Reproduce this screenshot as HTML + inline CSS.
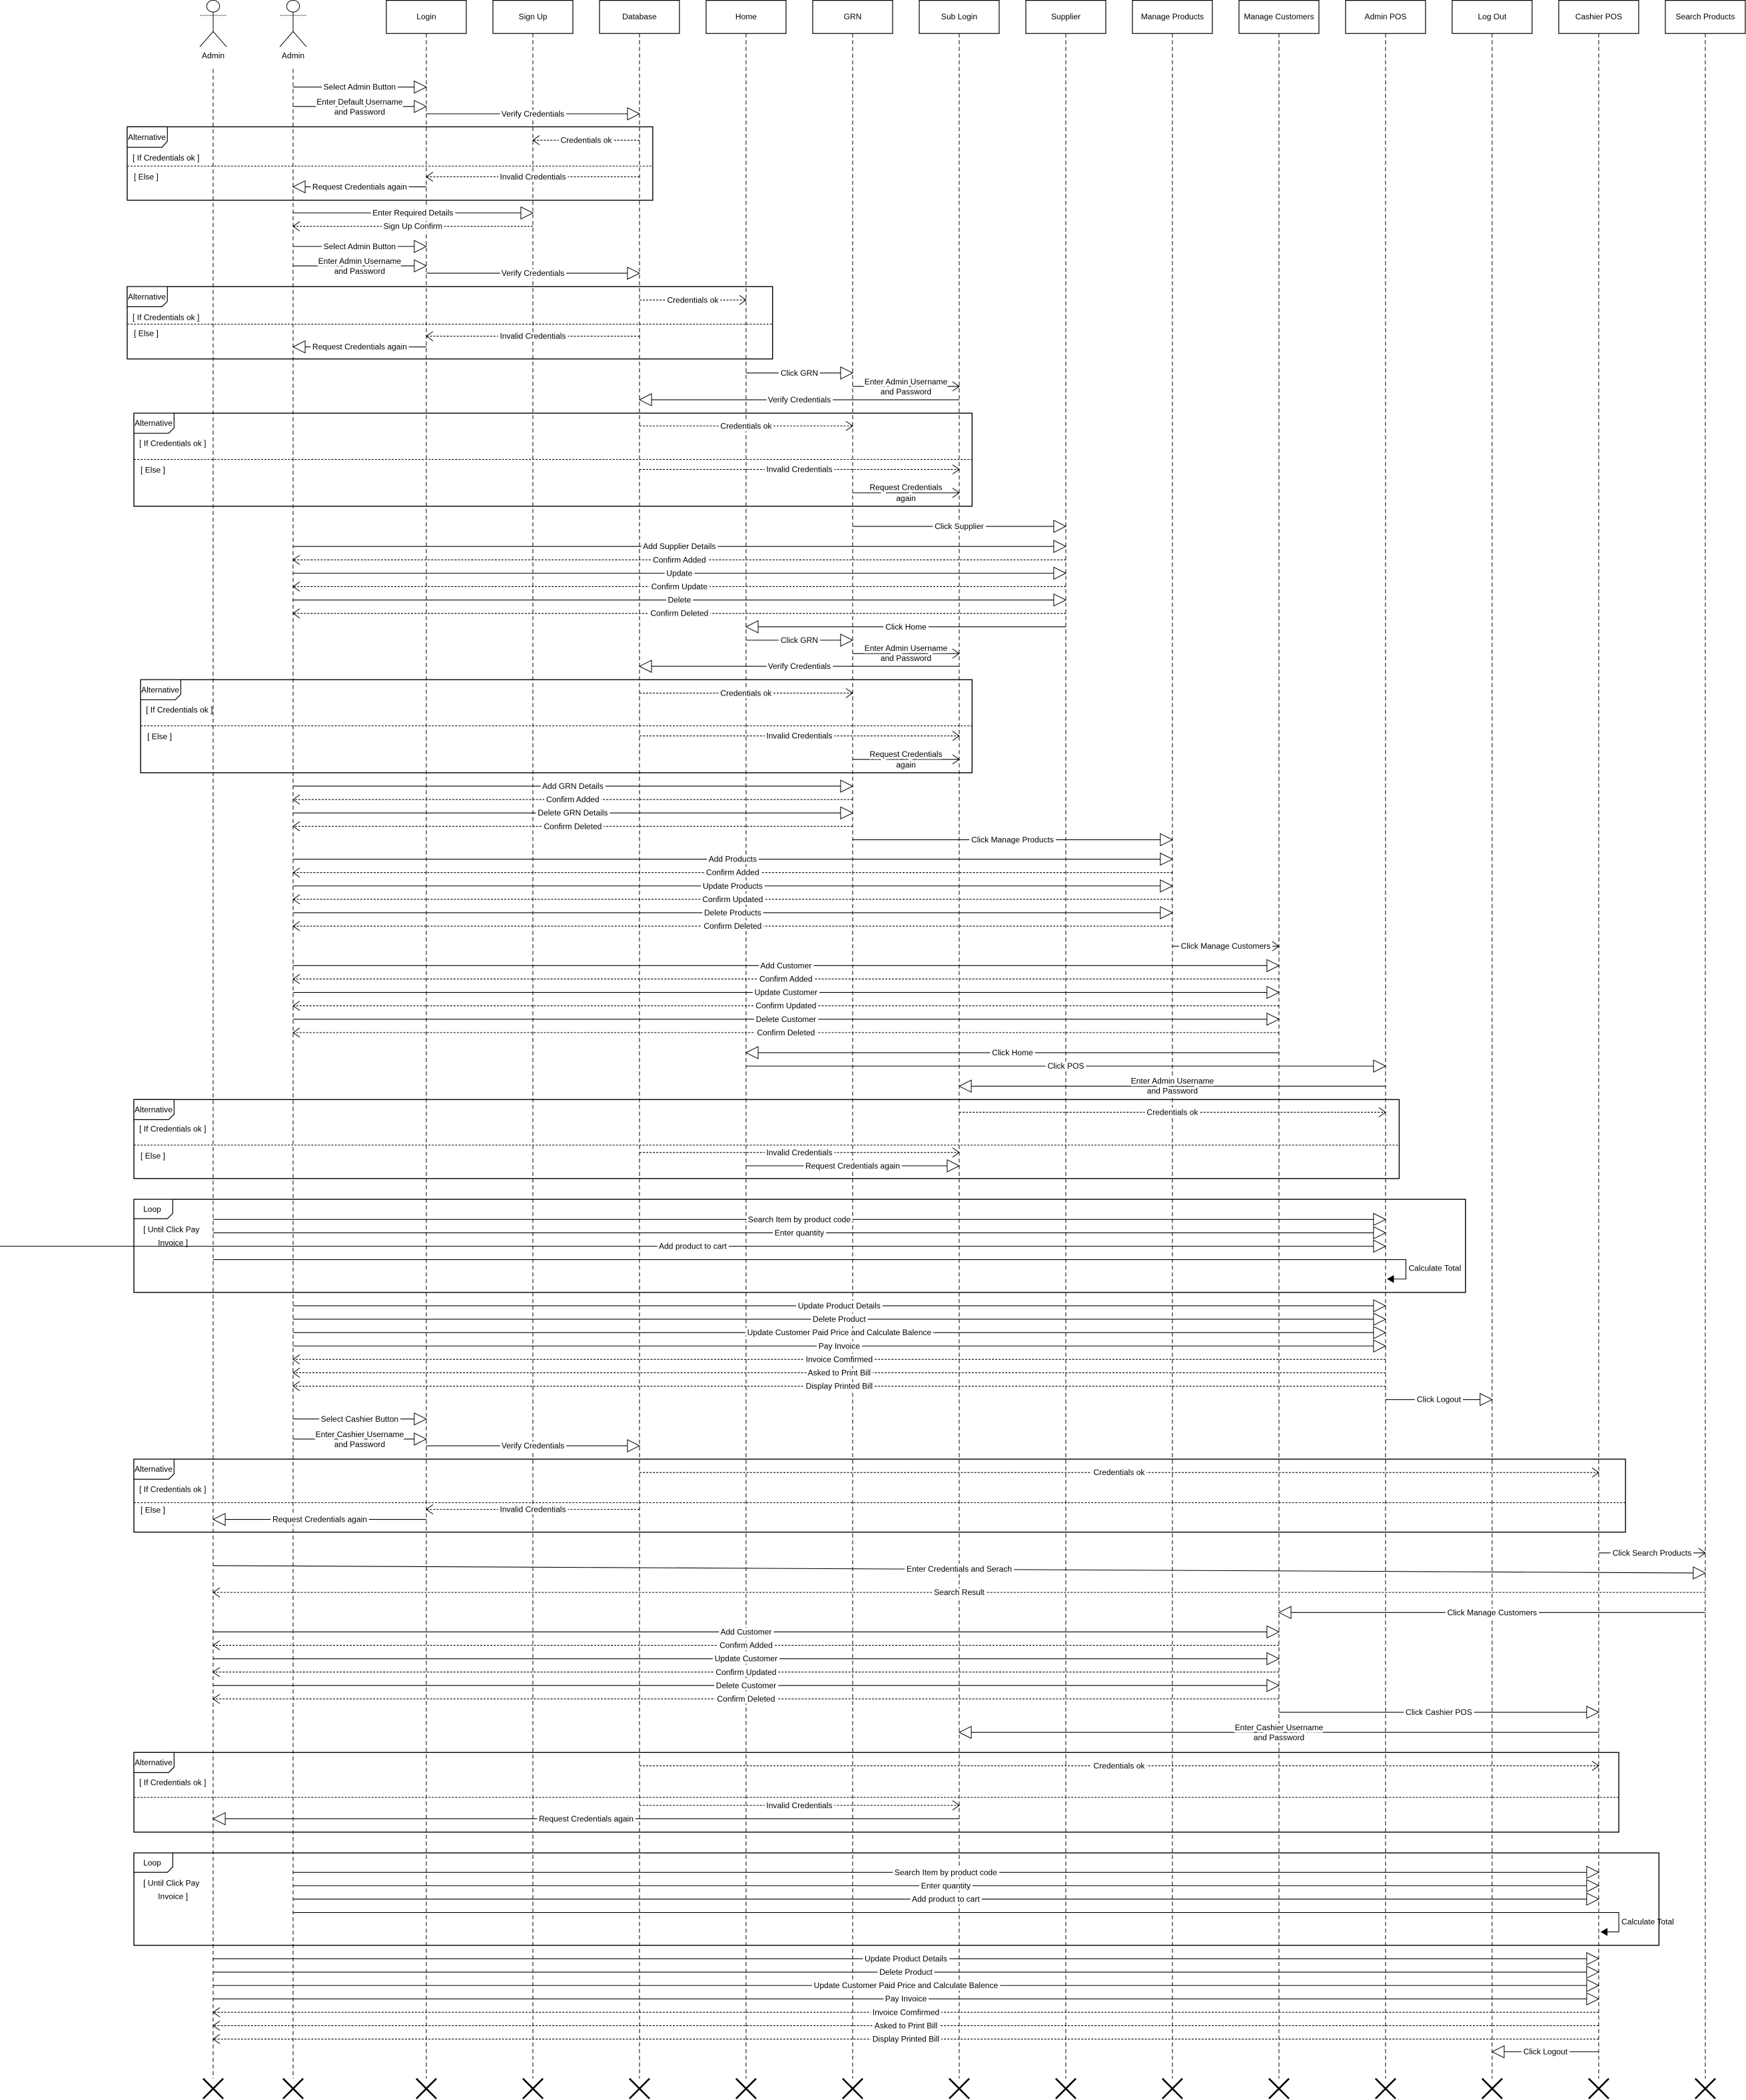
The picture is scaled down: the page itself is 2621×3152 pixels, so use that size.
<!DOCTYPE html>
<html><head><meta charset="utf-8"><style>
html,body{margin:0;padding:0;background:#fff}
svg{display:block}
text{font-family:"Liberation Sans",sans-serif;font-size:6px;text-anchor:middle;fill:#000;paint-order:stroke;stroke:#fff;stroke-width:3.6px;stroke-linejoin:round}
text.l{text-anchor:start;stroke:none}
.ll{stroke:#000;stroke-width:.5;stroke-dasharray:3 2;fill:none}
.s{stroke:#000;stroke-width:.55;marker-end:url(#t)}
.c{stroke:#000;stroke-width:.55;marker-end:url(#v)}
.d{stroke:#000;stroke-width:.55;stroke-dasharray:1.5 1;marker-end:url(#v)}
.f{fill:none;stroke:#000;stroke-width:.7}
.dv{stroke:#000;stroke-width:.5;stroke-dasharray:1.5 1}
.bx{fill:#fff;stroke:#000;stroke-width:.6}
.x{stroke:#000;stroke-width:1.3}
.tg{fill:#fff;stroke:#000;stroke-width:.6}
</style></head><body>
<svg width="2621" height="3152" viewBox="0 0 1304 1568" preserveAspectRatio="none" xmlns="http://www.w3.org/2000/svg">
<defs>
<marker id="t" markerUnits="userSpaceOnUse" markerWidth="11" markerHeight="11" refX="9.5" refY="5" orient="auto"><path d="M0.5,0.5 L9.5,5 L0.5,9.5 Z" fill="#fff" stroke="#000" stroke-width=".5"/></marker>
<marker id="v" markerUnits="userSpaceOnUse" markerWidth="7" markerHeight="8" refX="5.5" refY="4" orient="auto"><path d="M0.5,0.5 L5.5,4 L0.5,7.5" fill="none" stroke="#000" stroke-width=".5"/></marker>
<marker id="fa" markerUnits="userSpaceOnUse" markerWidth="6" markerHeight="6" refX="5" refY="3" orient="auto"><path d="M0,0 L5,3 L0,6 Z" fill="#000"/></marker>
</defs>

<g class="ll">
<line x1="159.2" y1="51.5" x2="159.2" y2="1552"/><line x1="218.9" y1="51.5" x2="218.9" y2="1552"/>
<line x1="318.4" y1="25" x2="318.4" y2="1552"/><line x1="398" y1="25" x2="398" y2="1552"/>
<line x1="477.6" y1="25" x2="477.6" y2="1552"/><line x1="557.2" y1="25" x2="557.2" y2="1552"/>
<line x1="636.8" y1="25" x2="636.8" y2="1552"/><line x1="716.4" y1="25" x2="716.4" y2="1552"/>
<line x1="796" y1="25" x2="796" y2="1552"/><line x1="875.6" y1="25" x2="875.6" y2="1552"/>
<line x1="955.2" y1="25" x2="955.2" y2="1552"/><line x1="1034.8" y1="25" x2="1034.8" y2="1552"/>
<line x1="1114.4" y1="25" x2="1114.4" y2="1552"/><line x1="1194" y1="25" x2="1194" y2="1552"/>
<line x1="1273.6" y1="25" x2="1273.6" y2="1552"/>
</g>

<g fill="none" stroke="#000" stroke-width=".5">
<ellipse cx="159.2" cy="4.6" rx="4.8" ry="4.4"/><line x1="149.2" y1="11.5" x2="169.2" y2="11.5" stroke="#777"/><line x1="159.2" y1="9" x2="159.2" y2="23.5"/><path d="M149.2,35 L159.2,23.5 L169.2,35"/>
<ellipse cx="218.9" cy="4.6" rx="4.8" ry="4.4"/><line x1="208.9" y1="11.5" x2="228.9" y2="11.5" stroke="#777"/><line x1="218.9" y1="9" x2="218.9" y2="23.5"/><path d="M208.9,35 L218.9,23.5 L228.9,35"/>
</g>
<text x="159.2" y="43.5">Admin</text><text x="218.9" y="43.5">Admin</text>

<g class="bx">
<rect x="288.55" y="0.3" width="59.7" height="24.7"/><rect x="368.15" y="0.3" width="59.7" height="24.7"/>
<rect x="447.75" y="0.3" width="59.7" height="24.7"/><rect x="527.35" y="0.3" width="59.7" height="24.7"/>
<rect x="606.95" y="0.3" width="59.7" height="24.7"/><rect x="686.55" y="0.3" width="59.7" height="24.7"/>
<rect x="766.15" y="0.3" width="59.7" height="24.7"/><rect x="845.75" y="0.3" width="59.7" height="24.7"/>
<rect x="925.35" y="0.3" width="59.7" height="24.7"/><rect x="1004.95" y="0.3" width="59.7" height="24.7"/>
<rect x="1084.55" y="0.3" width="59.7" height="24.7"/><rect x="1164.15" y="0.3" width="59.7" height="24.7"/>
<rect x="1243.75" y="0.3" width="59.7" height="24.7"/>
</g>
<text x="318.4" y="14.5">Login</text><text x="398" y="14.5">Sign Up</text><text x="477.6" y="14.5">Database</text>
<text x="557.2" y="14.5">Home</text><text x="636.8" y="14.5">GRN</text><text x="716.4" y="14.5">Sub Login</text>
<text x="796" y="14.5">Supplier</text><text x="875.6" y="14.5">Manage Products</text><text x="955.2" y="14.5">Manage Customers</text>
<text x="1034.8" y="14.5">Admin POS</text><text x="1114.4" y="14.5">Log Out</text><text x="1194" y="14.5">Cashier POS</text>
<text x="1273.6" y="14.5">Search Products</text>

<rect class="f" x="95" y="94.7" width="392.5" height="54.8"/>
<path class="tg" d="M95,94.7 H125 V105.5 L121,110 H95 Z"/><text class="l" x="95.5" y="104.5">Alternative</text>
<text class="l" x="99" y="120">[ If Credentials ok ]</text><line class="dv" x1="95" y1="124" x2="487.5" y2="124"/><text class="l" x="100" y="134">[ Else ]</text>

<rect class="f" x="95" y="214" width="482" height="54"/>
<path class="tg" d="M95,214 H125 V225 L121,229 H95 Z"/><text class="l" x="95.5" y="223.5">Alternative</text>
<text class="l" x="99" y="239">[ If Credentials ok ]</text><line class="dv" x1="95" y1="242" x2="577" y2="242"/><text class="l" x="100" y="251">[ Else ]</text>

<rect class="f" x="100" y="308.5" width="626" height="69.5"/>
<path class="tg" d="M100,308.5 H130 V319.5 L126,323.5 H100 Z"/><text class="l" x="100.5" y="318">Alternative</text>
<text class="l" x="104" y="333">[ If Credentials ok ]</text><line class="dv" x1="100" y1="343" x2="726" y2="343"/><text class="l" x="105" y="353">[ Else ]</text>

<rect class="f" x="105" y="507.5" width="621" height="69.5"/>
<path class="tg" d="M105,507.5 H135 V518.5 L131,522.5 H105 Z"/><text class="l" x="105.5" y="517">Alternative</text>
<text class="l" x="109" y="532">[ If Credentials ok ]</text><line class="dv" x1="105" y1="542" x2="726" y2="542"/><text class="l" x="110" y="552">[ Else ]</text>

<rect class="f" x="100" y="821" width="945" height="59"/>
<path class="tg" d="M100,821 H130 V832 L126,836 H100 Z"/><text class="l" x="100.5" y="830.5">Alternative</text>
<text class="l" x="104" y="845">[ If Credentials ok ]</text><line class="dv" x1="100" y1="855" x2="1045" y2="855"/><text class="l" x="105" y="865">[ Else ]</text>

<rect class="f" x="100" y="895.5" width="994.5" height="69.5"/>
<path class="tg" d="M100,895.5 H129 V906 L125,910 H100 Z"/><text class="l" x="107" y="905">Loop</text>
<text class="l" x="107" y="920">[  Until Click Pay</text><text class="l" x="118" y="930">Invoice ]</text>

<rect class="f" x="100" y="1089.5" width="1114" height="54.5"/>
<path class="tg" d="M100,1089.5 H130 V1100.5 L126,1104.5 H100 Z"/><text class="l" x="100.5" y="1099">Alternative</text>
<text class="l" x="104" y="1114">[ If Credentials ok ]</text><line class="dv" x1="100" y1="1122" x2="1214" y2="1122"/><text class="l" x="105" y="1129.5">[ Else ]</text>

<rect class="f" x="100" y="1308.5" width="1109" height="59.5"/>
<path class="tg" d="M100,1308.5 H130 V1319.5 L126,1323.5 H100 Z"/><text class="l" x="100.5" y="1318">Alternative</text>
<text class="l" x="104" y="1333">[ If Credentials ok ]</text><line class="dv" x1="100" y1="1342" x2="1209" y2="1342"/>

<rect class="f" x="100" y="1383.5" width="1139" height="69"/>
<path class="tg" d="M100,1383.5 H129 V1394 L125,1398 H100 Z"/><text class="l" x="107" y="1393">Loop</text>
<text class="l" x="107" y="1408">[  Until Click Pay</text><text class="l" x="118" y="1418">Invoice ]</text>

<line class="s" x1="218.9" y1="65" x2="318.4" y2="65"/><text x="268.6" y="67">Select Admin Button</text>
<line class="s" x1="218.9" y1="79.5" x2="318.4" y2="79.5"/><text x="268.6" y="78">Enter Default Username</text><text x="268.6" y="85.5">and Password</text>
<line class="s" x1="318.4" y1="85" x2="477.6" y2="85"/><text x="398" y="87">Verify Credentials</text>
<line class="d" x1="477.6" y1="104.7" x2="398" y2="104.7"/><text x="437.8" y="106.7">Credentials ok</text>
<line class="d" x1="477.6" y1="132" x2="318.4" y2="132"/><text x="398" y="134">Invalid Credentials</text>
<line class="s" x1="318.4" y1="139.5" x2="218.9" y2="139.5"/><text x="268.6" y="141.5">Request Credentials again</text>
<line class="s" x1="218.9" y1="159" x2="398" y2="159"/><text x="308.4" y="161">Enter Required Details</text>
<line class="d" x1="398" y1="169" x2="218.9" y2="169"/><text x="308.4" y="171">Sign Up Confirm</text>
<line class="s" x1="218.9" y1="184" x2="318.4" y2="184"/><text x="268.6" y="186">Select Admin Button</text>
<line class="s" x1="218.9" y1="198.5" x2="318.4" y2="198.5"/><text x="268.6" y="197">Enter Admin Username</text><text x="268.6" y="204.5">and Password</text>
<line class="s" x1="318.4" y1="204" x2="477.6" y2="204"/><text x="398" y="206">Verify Credentials</text>
<line class="d" x1="477.6" y1="224" x2="557.2" y2="224"/><text x="517.4" y="226">Credentials ok</text>
<line class="d" x1="477.6" y1="251" x2="318.4" y2="251"/><text x="398" y="253">Invalid Credentials</text>
<line class="s" x1="318.4" y1="259" x2="218.9" y2="259"/><text x="268.6" y="261">Request Credentials again</text>
<line class="s" x1="557.2" y1="278.5" x2="636.8" y2="278.5"/><text x="597" y="280.5">Click GRN</text>
<line class="c" x1="636.8" y1="288.5" x2="716.4" y2="288.5"/><text x="676.6" y="287">Enter Admin Username</text><text x="676.6" y="294.5">and Password</text>
<line class="s" x1="716.4" y1="298.5" x2="477.6" y2="298.5"/><text x="597" y="300.5">Verify Credentials</text>
<line class="d" x1="477.6" y1="318" x2="636.8" y2="318"/><text x="557.2" y="320">Credentials ok</text>
<line class="d" x1="477.6" y1="350.5" x2="716.4" y2="350.5"/><text x="597" y="352.5">Invalid Credentials</text>
<line class="c" x1="636.8" y1="368" x2="716.4" y2="368"/><text x="676.6" y="366">Request Credentials</text><text x="676.6" y="374">again</text>
<line class="s" x1="636.8" y1="393" x2="796" y2="393"/><text x="716.4" y="395">Click Supplier</text>
<line class="s" x1="218.9" y1="408" x2="796" y2="408"/><text x="507.4" y="410">Add Supplier Details</text>
<line class="d" x1="796" y1="418" x2="218.9" y2="418"/><text x="507.4" y="420">Confirm Added</text>
<line class="s" x1="218.9" y1="428" x2="796" y2="428"/><text x="507.4" y="430">Update</text>
<line class="d" x1="796" y1="438" x2="218.9" y2="438"/><text x="507.4" y="440">Confirm Update</text>
<line class="s" x1="218.9" y1="448" x2="796" y2="448"/><text x="507.4" y="450">Delete</text>
<line class="d" x1="796" y1="458" x2="218.9" y2="458"/><text x="507.4" y="460">Confirm Deleted</text>
<line class="s" x1="796" y1="468" x2="557.2" y2="468"/><text x="676.6" y="470">Click Home</text>
<line class="s" x1="557.2" y1="478" x2="636.8" y2="478"/><text x="597" y="480">Click GRN</text>
<line class="c" x1="636.8" y1="488" x2="716.4" y2="488"/><text x="676.6" y="486">Enter Admin Username</text><text x="676.6" y="493.5">and Password</text>
<line class="s" x1="716.4" y1="497.5" x2="477.6" y2="497.5"/><text x="597" y="499.5">Verify Credentials</text>
<line class="d" x1="477.6" y1="517.5" x2="636.8" y2="517.5"/><text x="557.2" y="519.5">Credentials ok</text>
<line class="d" x1="477.6" y1="549.5" x2="716.4" y2="549.5"/><text x="597" y="551.5">Invalid Credentials</text>
<line class="c" x1="636.8" y1="567" x2="716.4" y2="567"/><text x="676.6" y="565">Request Credentials</text><text x="676.6" y="573">again</text>
<line class="s" x1="218.9" y1="587" x2="636.8" y2="587"/><text x="427.8" y="589">Add GRN Details</text>
<line class="d" x1="636.8" y1="597" x2="218.9" y2="597"/><text x="427.8" y="599">Confirm Added</text>
<line class="s" x1="218.9" y1="607" x2="636.8" y2="607"/><text x="427.8" y="609">Delete GRN Details</text>
<line class="d" x1="636.8" y1="617" x2="218.9" y2="617"/><text x="427.8" y="619">Confirm Deleted</text>
<line class="s" x1="636.8" y1="627" x2="875.6" y2="627"/><text x="756.2" y="629">Click Manage Products</text>
<line class="s" x1="218.9" y1="641.5" x2="875.6" y2="641.5"/><text x="547.2" y="643.5">Add Products</text>
<line class="d" x1="875.6" y1="651.5" x2="218.9" y2="651.5"/><text x="547.2" y="653.5">Confirm Added</text>
<line class="s" x1="218.9" y1="661.5" x2="875.6" y2="661.5"/><text x="547.2" y="663.5">Update Products</text>
<line class="d" x1="875.6" y1="671.5" x2="218.9" y2="671.5"/><text x="547.2" y="673.5">Confirm Updated</text>
<line class="s" x1="218.9" y1="681.5" x2="875.6" y2="681.5"/><text x="547.2" y="683.5">Delete Products</text>
<line class="d" x1="875.6" y1="691.5" x2="218.9" y2="691.5"/><text x="547.2" y="693.5">Confirm Deleted</text>
<line class="c" x1="875.6" y1="706.5" x2="955.2" y2="706.5"/><text x="915.4" y="708.5">Click Manage Customers</text>
<line class="s" x1="218.9" y1="721" x2="955.2" y2="721"/><text x="587" y="723">Add Customer</text>
<line class="d" x1="955.2" y1="731" x2="218.9" y2="731"/><text x="587" y="733">Confirm Added</text>
<line class="s" x1="218.9" y1="741" x2="955.2" y2="741"/><text x="587" y="743">Update Customer</text>
<line class="d" x1="955.2" y1="751" x2="218.9" y2="751"/><text x="587" y="753">Confirm Updated</text>
<line class="s" x1="218.9" y1="761" x2="955.2" y2="761"/><text x="587" y="763">Delete Customer</text>
<line class="d" x1="955.2" y1="771" x2="218.9" y2="771"/><text x="587" y="773">Confirm Deleted</text>
<line class="s" x1="955.2" y1="786" x2="557.2" y2="786"/><text x="756.2" y="788">Click Home</text>
<line class="s" x1="557.2" y1="796" x2="1034.8" y2="796"/><text x="796" y="798">Click POS</text>
<line class="s" x1="1034.8" y1="811" x2="716.4" y2="811"/><text x="875.6" y="809">Enter Admin Username</text><text x="875.6" y="816.5">and Password</text>
<line class="d" x1="716.4" y1="830.5" x2="1034.8" y2="830.5"/><text x="875.6" y="832.5">Credentials ok</text>
<line class="d" x1="477.6" y1="860.5" x2="716.4" y2="860.5"/><text x="597" y="862.5">Invalid Credentials</text>
<line class="s" x1="557.2" y1="870.5" x2="716.4" y2="870.5"/><text x="636.8" y="872.5">Request Credentials again</text>
<line class="s" x1="159.2" y1="910.5" x2="1034.8" y2="910.5"/><text x="597" y="912.5">Search Item by product code</text>
<line class="s" x1="159.2" y1="920.5" x2="1034.8" y2="920.5"/><text x="597" y="922.5">Enter quantity</text>
<line class="s" x1="0" y1="930.5" x2="1034.8" y2="930.5"/><text x="517.4" y="932.5">Add product to cart</text>
<path d="M159.2,940.5 H1050 V955 H1036" fill="none" stroke="#000" stroke-width=".55" marker-end="url(#fa)"/><text class="l" x="1052" y="949">Calculate Total</text>
<line class="s" x1="218.9" y1="975" x2="1034.8" y2="975"/><text x="626.8" y="977">Update Product Details</text>
<line class="s" x1="218.9" y1="985" x2="1034.8" y2="985"/><text x="626.8" y="987">Delete Product</text>
<line class="s" x1="218.9" y1="995" x2="1034.8" y2="995"/><text x="626.8" y="997">Update Customer Paid Price and Calculate Balence</text>
<line class="s" x1="218.9" y1="1005" x2="1034.8" y2="1005"/><text x="626.8" y="1007">Pay  Invoice</text>
<line class="d" x1="1034.8" y1="1015" x2="218.9" y2="1015"/><text x="626.8" y="1017">Invoice Comfirmed</text>
<line class="d" x1="1034.8" y1="1025" x2="218.9" y2="1025"/><text x="626.8" y="1027">Asked to Print Bill</text>
<line class="d" x1="1034.8" y1="1035" x2="218.9" y2="1035"/><text x="626.8" y="1037">Display Printed Bill</text>
<line class="s" x1="1034.8" y1="1045" x2="1114.4" y2="1045"/><text x="1074.6" y="1047">Click Logout</text>
<line class="s" x1="218.9" y1="1059.5" x2="318.4" y2="1059.5"/><text x="268.6" y="1061.5">Select Cashier Button</text>
<line class="s" x1="218.9" y1="1074.5" x2="318.4" y2="1074.5"/><text x="268.6" y="1073">Enter Cashier Username</text><text x="268.6" y="1080.5">and Password</text>
<line class="s" x1="318.4" y1="1079.5" x2="477.6" y2="1079.5"/><text x="398" y="1081.5">Verify Credentials</text>
<line class="d" x1="477.6" y1="1099.5" x2="1194" y2="1099.5"/><text x="835.8" y="1101.5">Credentials ok</text>
<line class="d" x1="477.6" y1="1127" x2="318.4" y2="1127"/><text x="398" y="1129">Invalid Credentials</text>
<line class="s" x1="318.4" y1="1134.5" x2="159.2" y2="1134.5"/><text x="238.8" y="1136.5">Request Credentials again</text>
<line class="c" x1="1194" y1="1159.5" x2="1273.6" y2="1159.5"/><text x="1233.8" y="1161.5">Click Search Products</text>
<line class="s" x1="159.2" y1="1169" x2="1273.6" y2="1174.5"/><text x="716.4" y="1173.5">Enter Credentials and Serach</text>
<line class="d" x1="1273.6" y1="1189" x2="159.2" y2="1189"/><text x="716.4" y="1191">Search Result</text>
<line class="s" x1="1273.6" y1="1204" x2="955.2" y2="1204"/><text x="1114.4" y="1206">Click Manage Customers</text>
<line class="s" x1="159.2" y1="1218.5" x2="955.2" y2="1218.5"/><text x="557.2" y="1220.5">Add Customer</text>
<line class="d" x1="955.2" y1="1228.5" x2="159.2" y2="1228.5"/><text x="557.2" y="1230.5">Confirm Added</text>
<line class="s" x1="159.2" y1="1238.5" x2="955.2" y2="1238.5"/><text x="557.2" y="1240.5">Update Customer</text>
<line class="d" x1="955.2" y1="1248.5" x2="159.2" y2="1248.5"/><text x="557.2" y="1250.5">Confirm Updated</text>
<line class="s" x1="159.2" y1="1258.5" x2="955.2" y2="1258.5"/><text x="557.2" y="1260.5">Delete Customer</text>
<line class="d" x1="955.2" y1="1268.5" x2="159.2" y2="1268.5"/><text x="557.2" y="1270.5">Confirm Deleted</text>
<line class="s" x1="955.2" y1="1278.5" x2="1194" y2="1278.5"/><text x="1074.6" y="1280.5">Click Cashier POS</text>
<line class="s" x1="1194" y1="1293.5" x2="716.4" y2="1293.5"/><text x="955.2" y="1292">Enter Cashier Username</text><text x="955.2" y="1299.5">and Password</text>
<line class="d" x1="477.6" y1="1318.5" x2="1194" y2="1318.5"/><text x="835.8" y="1320.5">Credentials ok</text>
<line class="d" x1="477.6" y1="1348" x2="716.4" y2="1348"/><text x="597" y="1350">Invalid Credentials</text>
<line class="s" x1="716.4" y1="1358" x2="159.2" y2="1358"/><text x="437.8" y="1360">Request Credentials again</text>
<line class="s" x1="218.9" y1="1398" x2="1194" y2="1398"/><text x="706.4" y="1400">Search Item by product code</text>
<line class="s" x1="218.9" y1="1408" x2="1194" y2="1408"/><text x="706.4" y="1410">Enter quantity</text>
<line class="s" x1="218.9" y1="1418" x2="1194" y2="1418"/><text x="706.4" y="1420">Add product to cart</text>
<path d="M218.9,1428 H1209 V1442.5 H1195.5" fill="none" stroke="#000" stroke-width=".55" marker-end="url(#fa)"/><text class="l" x="1211" y="1437">Calculate Total</text>
<line class="s" x1="159.2" y1="1462.5" x2="1194" y2="1462.5"/><text x="676.6" y="1464.5">Update Product Details</text>
<line class="s" x1="159.2" y1="1472.5" x2="1194" y2="1472.5"/><text x="676.6" y="1474.5">Delete Product</text>
<line class="s" x1="159.2" y1="1482.5" x2="1194" y2="1482.5"/><text x="676.6" y="1484.5">Update Customer Paid Price and Calculate Balence</text>
<line class="s" x1="159.2" y1="1492.5" x2="1194" y2="1492.5"/><text x="676.6" y="1494.5">Pay  Invoice</text>
<line class="d" x1="1194" y1="1502.5" x2="159.2" y2="1502.5"/><text x="676.6" y="1504.5">Invoice Comfirmed</text>
<line class="d" x1="1194" y1="1512.5" x2="159.2" y2="1512.5"/><text x="676.6" y="1514.5">Asked to Print Bill</text>
<line class="d" x1="1194" y1="1522.5" x2="159.2" y2="1522.5"/><text x="676.6" y="1524.5">Display Printed Bill</text>
<line class="s" x1="1194" y1="1532" x2="1114.4" y2="1532"/><text x="1154.2" y="1534">Click Logout</text>

<g class="x">
<path d="M151.7,1552 L166.7,1567 M166.7,1552 L151.7,1567"/>
<path d="M211.4,1552 L226.4,1567 M226.4,1552 L211.4,1567"/>
<path d="M310.9,1552 L325.9,1567 M325.9,1552 L310.9,1567"/>
<path d="M390.5,1552 L405.5,1567 M405.5,1552 L390.5,1567"/>
<path d="M470.1,1552 L485.1,1567 M485.1,1552 L470.1,1567"/>
<path d="M549.7,1552 L564.7,1567 M564.7,1552 L549.7,1567"/>
<path d="M629.3,1552 L644.3,1567 M644.3,1552 L629.3,1567"/>
<path d="M708.9,1552 L723.9,1567 M723.9,1552 L708.9,1567"/>
<path d="M788.5,1552 L803.5,1567 M803.5,1552 L788.5,1567"/>
<path d="M868.1,1552 L883.1,1567 M883.1,1552 L868.1,1567"/>
<path d="M947.7,1552 L962.7,1567 M962.7,1552 L947.7,1567"/>
<path d="M1027.3,1552 L1042.3,1567 M1042.3,1552 L1027.3,1567"/>
<path d="M1106.9,1552 L1121.9,1567 M1121.9,1552 L1106.9,1567"/>
<path d="M1186.5,1552 L1201.5,1567 M1201.5,1552 L1186.5,1567"/>
<path d="M1266.1,1552 L1281.1,1567 M1281.1,1552 L1266.1,1567"/>
</g>
</svg>
</body></html>
